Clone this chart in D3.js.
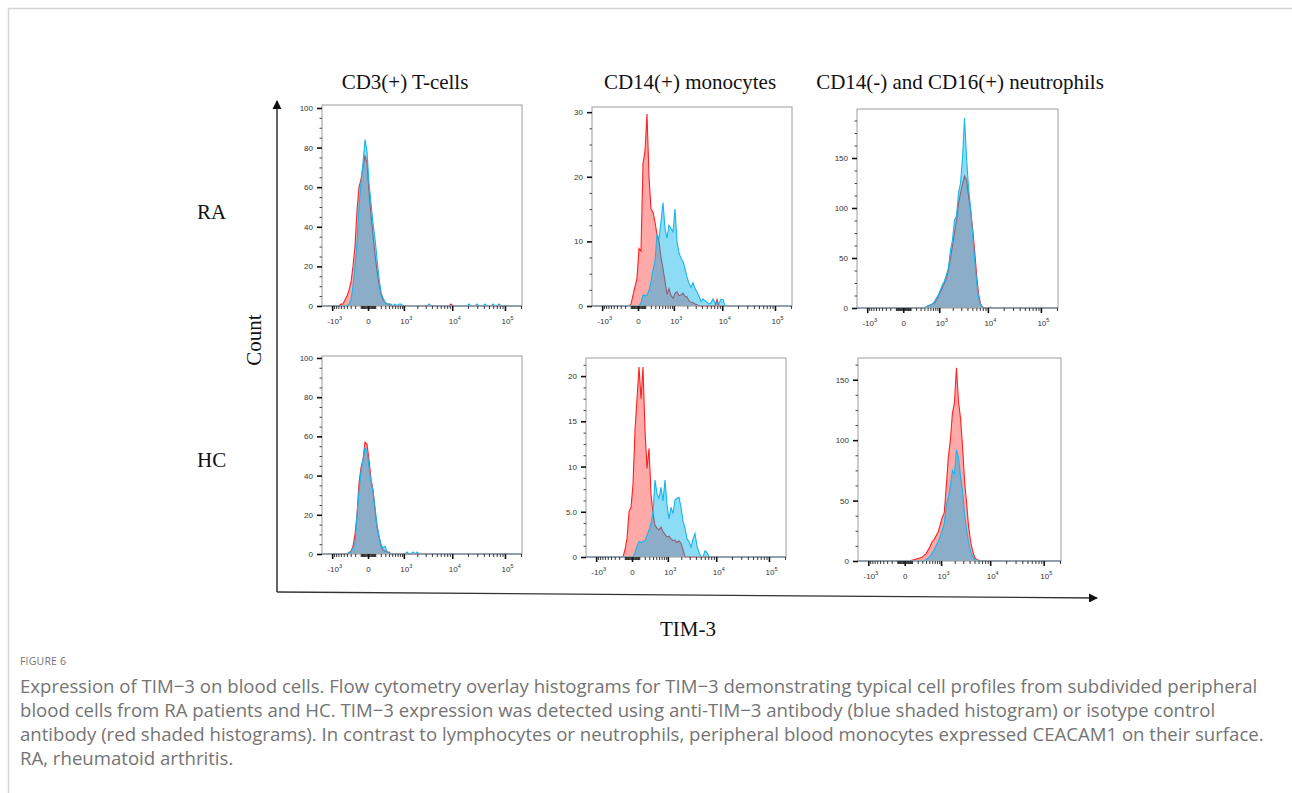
<!DOCTYPE html>
<html lang="en">
<head>
<meta charset="utf-8">
<title>TIM-3 histograms</title>
<script src="https://cdn.jsdelivr.net/npm/d3@7"></script>
<style>
  body { margin: 0; background: #fff; }
  .serif { font-family: "Liberation Serif", "Times New Roman", serif; font-size: 21px; fill: #111; }
  .tick { font-family: "Liberation Sans", Arial, sans-serif; font-size: 8px; fill: #333; }
  .cap { font-family: "Open Sans", sans-serif; font-size: 18.6px; fill: #747474; }
</style>
</head>
<body>
<script>
// ---- data ----
const colLabels = ["CD3(+) T-cells", "CD14(+) monocytes", "CD14(-) and CD16(+) neutrophils"];
const rowLabels = ["RA", "HC"];

// x axis (logicle-like) ticks
const xTickValues = [-1000, 0, 1000, 10000, 100000];
const xTickBase = ["-10", "0", "10", "10", "10"];
const xTickExp = ["3", "", "3", "4", "5"];

// y axes, one entry per panel (RA row then HC row)
const yMax = [101.5, 30.8, 199, 101, 22, 168];
const yTicks = [
  [0, 20, 40, 60, 80, 100],
  [0, 10, 20, 30],
  [0, 50, 100, 150],
  [0, 20, 40, 60, 80, 100],
  [0, 5, 10, 15, 20],
  [0, 50, 100, 150]
];
const yTickText = [
  ["0", "20", "40", "60", "80", "100"],
  ["0", "10", "20", "30"],
  ["0", "50", "100", "150"],
  ["0", "20", "40", "60", "80", "100"],
  ["0", "5.0", "10", "15", "20"],
  ["0", "50", "100", "150"]
];

// histogram counts: 100 channels across each axis, first channel given separately
// red = isotype control, blue = anti-TIM-3
const isoStart = [9, 19, 33, 13, 19, 26];
const timStart = [13, 24, 33, 13, 24, 33];

const raTcellIso = [1, 1, 3, 5, 8, 12, 20, 30, 48, 60, 64, 70, 76, 72, 58, 46, 36, 26, 18, 11, 6, 3, 2, 1, 1,
  0, 0, 0, 0, 0, 0, 0, 0, 0, 0, 0, 0, 0, 0, 0, 0, 0, 0, 0, 0, 0, 0, 0, 0, 0, 0, 0, 0, 0, 0, 1];
const raTcellTim = [1, 3, 10, 20, 32, 50, 62, 72, 84, 78, 62, 52, 42, 34, 24, 14, 7, 4, 2, 1, 1, 1,
  0, 1, 0, 1, 1, 0, 0, 0, 0, 0, 0, 0, 0, 0, 0, 0, 0, 0, 1, 0, 0, 0, 0, 0, 0, 0, 0, 0, 0, 0, 0, 0, 0, 0,
  0, 0, 0, 0, 1, 0, 0, 0, 1, 0, 0, 0, 1, 0, 0, 0, 1, 0, 0, 1];

const raMonoIso = [0.3, 1.7, 3, 4.3, 8.9, 8.5, 22, 24, 29.7, 20, 15, 14.5, 13, 11, 10, 7.5, 5.8, 3.8,
  1.8, 2.7, 1.6, 1.2, 2, 2.2, 1.6, 1.7, 2, 1.5, 1.4, 0.8, 0.6, 0.5, 0.3, 0.2,
  0, 0, 0, 0, 0, 0, 0, 0, 0, 1];
const raMonoTim = [0.5, 1.7, 1.6, 1.7, 2.4, 3.8, 5.6, 6.9, 11, 10.5, 13, 16, 12, 10.5, 12.5, 12, 11.5,
  15, 10, 8.2, 7.4, 6.9, 5.8, 4.5, 3.5, 2.9, 3.6, 2.7, 2.2, 1.5, 0.7, 1.1, 0.8, 0.6, 0.3, 0.5, 1.1,
  0.5, 0.6, 0.4, 1, 1];

const raNeutIso = [0.5, 1, 2.5, 3, 4, 5, 8, 12, 16, 21, 25, 30, 38, 50, 62, 75, 88, 104, 115, 124, 132,
  128, 112, 98, 80, 58, 33, 14, 4, 1, 0, 0, 0, 1];
const raNeutTim = [0.5, 1, 2, 3, 4, 6, 10, 13, 18, 23, 27, 33, 40, 58, 68, 88, 92, 115, 125, 150, 190,
  150, 120, 100, 75, 50, 26, 10, 3, 0.5];

const hcTcellIso = [0.5, 1.5, 4, 10, 20, 36, 44, 48, 57, 56, 48, 38, 33, 22, 14, 9, 4, 2, 1.5, 1, 1];
const hcTcellTim = [1, 1, 3, 5, 20, 32, 42, 48, 54, 53, 44, 37, 32, 24, 15, 9, 5, 3, 4, 1, 0.5,
  0, 0, 0, 0, 0, 0, 0, 0, 1, 0, 0, 1, 0, 1];

const hcMonoIso = [0.8, 2, 5, 5.5, 8, 14, 17.5, 21, 17.5, 21, 14, 9.8, 12, 7, 4.8, 3.5, 3.2, 3, 3.3,
  2.8, 2.5, 2.2, 2.3, 2, 1.8, 1.9, 1.6, 1.8, 1.5, 0.8];
const hcMonoTim = [0.5, 1.2, 1.7, 1.6, 1.7, 1.8, 2.4, 3, 3.7, 5, 8.5, 7, 6.5, 7.7, 6.2, 8.5, 5.8, 4.2,
  5.5, 4.8, 6.3, 6.5, 6.6, 5.5, 4, 3.2, 2, 1.7, 1.1, 2, 2.6, 1.2, 0.5, 0, 0, 0.7, 0.5];

const hcNeutIso = [0.5, 1, 1.5, 2, 2.5, 3, 4.5, 6, 9, 12, 16, 18, 21, 24, 30, 36, 40, 62, 86, 100, 122,
  131, 160, 132, 118, 95, 66, 48, 28, 16, 8, 3, 1, 0.5];
const hcNeutTim = [1, 2.5, 3.6, 6.5, 9, 13, 16, 20, 26, 31, 46, 53, 62, 75, 72, 92, 86, 70, 58, 38, 26,
  15, 8, 3.6, 1];

const isoSeries = [raTcellIso, raMonoIso, raNeutIso, hcTcellIso, hcMonoIso, hcNeutIso];
const timSeries = [raTcellTim, raMonoTim, raNeutTim, hcTcellTim, hcMonoTim, hcNeutTim];

// ---- layout ----
const W = 1292, H = 793;
const NB = 100;
const frames = [ // left, top, right, bottom
  [322, 105, 522, 306], [592, 107, 792, 306], [857, 109, 1058, 308],
  [322, 356, 522, 554], [586, 358, 786, 557], [858, 358, 1061, 561]
];

const svg = d3.select("body").append("svg")
  .attr("width", W).attr("height", H);

// page border
svg.append("line").attr("x1", 8).attr("x2", W).attr("y1", 8.5).attr("y2", 8.5)
  .attr("stroke", "#d4d4d4").attr("stroke-width", 1.5);
svg.append("line").attr("x1", 8.5).attr("x2", 8.5).attr("y1", 8).attr("y2", H)
  .attr("stroke", "#d4d4d4").attr("stroke-width", 1.5);

// column & row titles
const colX = [405, 690, 960];
colLabels.forEach((t, i) => {
  svg.append("text").attr("class", "serif").attr("x", colX[i]).attr("y", 89)
    .attr("text-anchor", "middle").text(t);
});
const rowY = [219, 467];
rowLabels.forEach((t, i) => {
  svg.append("text").attr("class", "serif").attr("x", 197).attr("y", rowY[i]).text(t);
});
svg.append("text").attr("class", "serif")
  .attr("transform", "translate(261,340) rotate(-90)")
  .attr("text-anchor", "middle").text("Count");
svg.append("text").attr("class", "serif").attr("x", 688).attr("y", 636)
  .attr("text-anchor", "middle").text("TIM-3");

// big axes with arrows
const defs = svg.append("defs");
defs.append("marker").attr("id", "arrow").attr("viewBox", "0 0 10 10")
  .attr("refX", 9).attr("refY", 5).attr("markerWidth", 7).attr("markerHeight", 7)
  .attr("orient", "auto")
  .append("path").attr("d", "M0,0L10,5L0,10Z").attr("fill", "#111");
svg.append("line").attr("x1", 277).attr("y1", 592).attr("x2", 277).attr("y2", 101)
  .attr("stroke", "#111").attr("stroke-width", 1.3).attr("marker-end", "url(#arrow)");
svg.append("line").attr("x1", 277).attr("y1", 592).attr("x2", 1097).attr("y2", 598)
  .attr("stroke", "#333").attr("stroke-width", 1.3).attr("marker-end", "url(#arrow)");

// x minor tick values (decade subdivisions)
const xMinor = [].concat(
  d3.range(-900, 0, 100), d3.range(-90, 0, 10), d3.range(10, 100, 10), d3.range(100, 1000, 100),
  d3.range(2000, 10000, 1000), d3.range(20000, 100000, 10000), [200000]
);

const isoFill = "rgba(255,40,40,0.4)", isoLine = "#ff2020";
const timFill = "rgba(0,178,235,0.45)", timLine = "#17b5ef";

frames.forEach((f, p) => {
  const [l, t, r, b] = f;
  const w = r - l, h = b - t;
  const g = svg.append("g").attr("transform", `translate(${l},${t})`);

  const x = d3.scaleSymlog().constant(270).domain([-1700, 209000]).range([0, w]);
  const xb = d3.scaleLinear().domain([0, NB]).range([0, w]);
  const y = d3.scaleLinear().domain([0, yMax[p]]).range([h, 0]);

  function full(start, counts) {
    const pts = [{ b: 0, c: 0 }];
    for (let k = 0; k < NB; k++) {
      const i = k - start;
      pts.push({ b: k + 0.5, c: i >= 0 && i < counts.length ? counts[i] : 0 });
    }
    pts.push({ b: NB, c: 0 });
    return pts;
  }
  const area = d3.area().x(d => xb(d.b)).y0(h).y1(d => y(d.c));
  const line = d3.line().x(d => xb(d.b)).y(d => y(d.c));

  const iso = full(isoStart[p], isoSeries[p]);
  const tim = full(timStart[p], timSeries[p]);

  g.append("path").datum(iso).attr("d", area).attr("fill", isoFill);
  g.append("path").datum(iso).attr("d", line).attr("fill", "none")
    .attr("stroke", isoLine).attr("stroke-width", 1.1);
  g.append("path").datum(tim).attr("d", area).attr("fill", timFill);
  g.append("path").datum(tim).attr("d", line).attr("fill", "none")
    .attr("stroke", timLine).attr("stroke-width", 1.1);

  // frame
  g.append("rect").attr("x", 0).attr("y", 0).attr("width", w).attr("height", h)
    .attr("fill", "none").attr("stroke", "#9c9c9c").attr("stroke-width", 1);

  // y axis
  const step = yTicks[p][1] - yTicks[p][0];
  const yMinor = d3.range(0, yMax[p], step / 4).filter(v => v % step !== 0);
  g.append("g").call(d3.axisLeft(y).tickValues(yMinor).tickSize(2.5).tickFormat(""))
    .call(s => s.select(".domain").remove())
    .call(s => s.selectAll("line").attr("stroke", "#333").attr("stroke-width", 0.9));
  const ya = g.append("g").call(d3.axisLeft(y).tickValues(yTicks[p]).tickSize(5)
      .tickPadding(4).tickFormat((d, i) => yTickText[p][i]))
    .call(s => s.select(".domain").remove());
  ya.selectAll("line").attr("stroke", "#111").attr("stroke-width", 1.6);
  ya.selectAll("text").attr("class", "tick").attr("font-family", null).attr("font-size", null);

  // x axis
  const xg = g.append("g").attr("transform", `translate(0,${h})`);
  xg.call(d3.axisBottom(x).tickValues(xMinor).tickSize(3).tickFormat(""))
    .call(s => s.select(".domain").remove())
    .call(s => s.selectAll("line").attr("stroke", "#222").attr("stroke-width", 0.9));
  const xa = g.append("g").attr("transform", `translate(0,${h})`)
    .call(d3.axisBottom(x).tickValues(xTickValues).tickSize(5).tickFormat(""));
  xa.select(".domain").remove();
  xa.selectAll("line").attr("stroke", "#111").attr("stroke-width", 1.6);
  xa.selectAll(".tick").each(function (d, i) {
    const txt = d3.select(this).append("text").attr("class", "tick")
      .attr("y", 18).attr("x", xTickExp[i] ? 2 : 0).attr("text-anchor", "middle")
      .attr("font-family", null).attr("font-size", null);
    txt.append("tspan").text(xTickBase[i]);
    if (xTickExp[i]) txt.append("tspan").attr("dy", -4.5).attr("font-size", 5.5).text(xTickExp[i]);
  });
});

// caption
svg.append("text").attr("x", 20).attr("y", 665)
  .attr("font-family", "'Open Sans', sans-serif").attr("font-size", 10.5)
  .attr("letter-spacing", 0.2).attr("fill", "#747474").text("FIGURE 6");
const capLines = [
  "Expression of TIM\u22123 on blood cells. Flow cytometry overlay histograms for TIM\u22123 demonstrating typical cell profiles from subdivided peripheral",
  "blood cells from RA patients and HC. TIM\u22123 expression was detected using anti-TIM\u22123 antibody (blue shaded histogram) or isotype control",
  "antibody (red shaded histograms). In contrast to lymphocytes or neutrophils, peripheral blood monocytes expressed CEACAM1 on their surface.",
  "RA, rheumatoid arthritis."
];
capLines.forEach((t, i) => {
  svg.append("text").attr("class", "cap").attr("x", 20).attr("y", 693 + i * 24).text(t);
});
</script>
</body>
</html>
